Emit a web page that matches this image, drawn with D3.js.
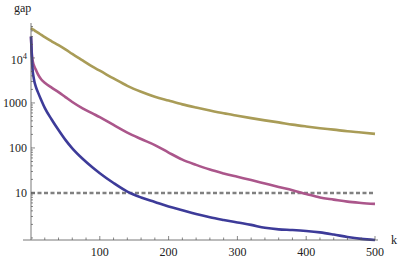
<!DOCTYPE html>
<html>
<head>
<meta charset="utf-8">
<script src="https://cdn.jsdelivr.net/npm/d3@7"></script>
<style>
  body { margin: 0; background: #fff; }
  text { font-family: "Liberation Serif", "DejaVu Serif", serif; fill: #222; }
</style>
</head>
<body>
<script>
// Data
var kValues = [0, 1, 2, 4, 7, 10, 15, 20, 30, 40, 50, 60, 75, 90, 100, 120, 140, 160, 180, 200,
               220, 240, 260, 280, 300, 320, 340, 360, 380, 400, 420, 440, 460, 480, 500];
var gapBlue = [30000, 12600, 6300, 3550, 2300, 1740, 1150, 780, 430, 250, 151, 98, 57.5, 36.3, 27.5, 16.6, 10.7, 7.94, 6.31, 5.01,
               4.12, 3.39, 2.88, 2.51, 2.21, 1.95, 1.68, 1.55, 1.5, 1.43, 1.33, 1.19, 1.05, 0.955, 0.9];
var gapPink = [29700, 13800, 9500, 7000, 5500, 4370, 3310, 2820, 2190, 1740, 1350, 1050, 760, 580, 484, 324, 219, 158, 116, 79,
               55, 42, 33, 27.2, 22.9, 19.3, 16.2, 13.6, 11.5, 9.5, 7.9, 7.1, 6.4, 6.0, 5.7];
var gapOlive = [46000, 45000, 44000, 42000, 39000, 36500, 32500, 29000, 23500, 19200, 15500, 12300, 8800, 6300, 5200, 3500, 2400, 1780, 1380, 1130,
                930, 790, 680, 590, 520, 460, 410, 370, 330, 300, 275, 255, 235, 220, 205];
var threshold = 10;
var xTicks = [100, 200, 300, 400, 500];
var yTicks = [10, 100, 1000, 10000];

var svgWidth = 399;
var svgHeight = 259;

var svg = d3.select("body")
  .append("svg")
  .attr("width", svgWidth)
  .attr("height", svgHeight);

var xScale = d3.scaleLinear().domain([0, 500]).range([31, 375]);
var yScale = d3.scaleLog().domain([0.9, 50000]).range([240, 26.5]);

// lines
var series = [
  { gap: gapOlive, color: "#a99c57" },
  { gap: gapPink, color: "#ab568b" },
  { gap: gapBlue, color: "#3d3b99" }
];

var line = d3.line()
  .x(d => xScale(d[0]))
  .y(d => yScale(d[1]))
  .curve(d3.curveMonotoneX);

// dashed threshold
svg.append("line")
  .attr("x1", xScale(0)).attr("x2", xScale(500))
  .attr("y1", yScale(threshold)).attr("y2", yScale(threshold))
  .attr("stroke", "#808080")
  .attr("stroke-width", 2.5)
  .attr("stroke-dasharray", "4,2.5");

series.forEach(function(s) {
  svg.append("path")
    .attr("d", line(kValues.map((k, i) => [k, s.gap[i]])))
    .attr("fill", "none")
    .attr("stroke", s.color)
    .attr("stroke-width", 2.6)
    .attr("stroke-linejoin", "round");
});

// axes
var axisColor = "#555";
svg.append("line")
  .attr("x1", 23).attr("x2", 378)
  .attr("y1", 240).attr("y2", 240)
  .attr("stroke", axisColor).attr("stroke-width", 0.8);
svg.append("line")
  .attr("x1", 31).attr("x2", 31)
  .attr("y1", 240).attr("y2", 23)
  .attr("stroke", axisColor).attr("stroke-width", 0.8);

// x ticks
var xMinor = d3.range(20, 501, 20);
svg.selectAll(".xt")
  .data(xMinor)
  .enter().append("line")
  .attr("x1", d => xScale(d)).attr("x2", d => xScale(d))
  .attr("y1", 240)
  .attr("y2", d => xTicks.indexOf(d) >= 0 ? 236 : 237.5)
  .attr("stroke", axisColor).attr("stroke-width", 0.7);

svg.selectAll(".xl")
  .data(xTicks)
  .enter().append("text")
  .attr("x", d => xScale(d))
  .attr("y", 256)
  .attr("text-anchor", "middle")
  .attr("font-size", 12)
  .text(d => d);

// y ticks
var yMinor = [];
[1, 10, 100, 1000, 10000].forEach(function(dec) {
  for (var m = 1; m <= 9; m++) {
    var v = dec * m;
    if (v >= 0.9 && v <= 50000) yMinor.push(v);
  }
});
svg.selectAll(".yt")
  .data(yMinor)
  .enter().append("line")
  .attr("x1", 31)
  .attr("x2", d => yTicks.indexOf(d) >= 0 ? 35 : 33)
  .attr("y1", d => yScale(d)).attr("y2", d => yScale(d))
  .attr("stroke", axisColor).attr("stroke-width", 0.7);

yTicks.forEach(function(v) {
  var t = svg.append("text")
    .attr("x", 27)
    .attr("y", yScale(v) + (v === 10000 ? 6 : 4))
    .attr("text-anchor", "end")
    .attr("font-size", 12);
  if (v === 10000) {
    t.append("tspan").text("10");
    t.append("tspan").attr("font-size", 8.5).attr("dy", -5).text("4");
  } else {
    t.text(v);
  }
});

// axis labels
svg.append("text")
  .attr("x", 14).attr("y", 12)
  .attr("font-size", 12)
  .text("gap");
svg.append("text")
  .attr("x", 391).attr("y", 244)
  .attr("font-size", 12)
  .text("k");
</script>
</body>
</html>
